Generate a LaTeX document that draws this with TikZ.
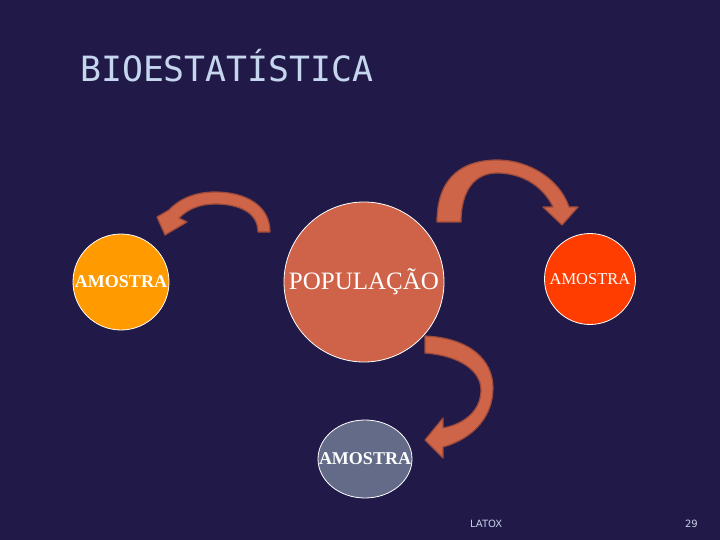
\documentclass[tikz,border=0pt]{standalone}
\usepackage{fontspec}
\setmainfont{Liberation Serif}
\newfontfamily\titlefont{DejaVu Sans Mono}
\newfontfamily\footfont{DejaVu Sans}
\usetikzlibrary{shapes.geometric}
\definecolor{bg}{HTML}{211A48}
\definecolor{titlecol}{HTML}{C5D6EE}
\definecolor{arrowfill}{HTML}{CF6548}
\definecolor{arrowline}{HTML}{9E4A3A}
\definecolor{popfill}{HTML}{CF634A}
\definecolor{orangefill}{HTML}{FF9A00}
\definecolor{redfill}{HTML}{FF3D00}
\definecolor{grayfill}{HTML}{646B88}
\definecolor{footcol}{HTML}{C8D0E8}
\tikzset{
  blob/.style={circle, draw=white, line width=0.8pt, inner sep=0pt, text=white},
  blockarrow/.style={fill=arrowfill, draw=arrowline, line width=1.2pt, line join=round},
  foot/.style={font=\footfont\fontsize{10}{12}\selectfont, text=footcol, inner sep=0pt}
}
\begin{document}
\begin{tikzpicture}[x=1pt,y=-1pt]
\fill[bg] (0,0) rectangle (720,540);
\useasboundingbox (0,0) rectangle (720,540);

\node[anchor=base west, inner sep=0pt, text=titlecol, font=\titlefont\fontsize{34.8}{40}\selectfont] (title) at (80,82) {BIOESTATÍSTICA};

\node[blob, fill=popfill, minimum size=160pt, font=\fontsize{25}{28}\selectfont] (pop) at (364,282) {POPULAÇÃO};
\node[blob, fill=orangefill, minimum size=96pt, font=\bfseries\fontsize{18}{20}\selectfont] (amleft) at (121,282) {AMOSTRA};
\node[blob, fill=redfill, minimum size=91pt, font=\fontsize{16.5}{19}\selectfont] (amright) at (590,279) {AMOSTRA};
\node[ellipse, draw=white, line width=0.8pt, inner sep=0pt, fill=grayfill, minimum width=94pt, minimum height=78pt,
  label={[text=white, inner sep=0pt, font=\bfseries\fontsize{18}{20}\selectfont]center:AMOSTRA}] (ambottom) at (365,459) {};

% left arrow
\draw[blockarrow] (270,232) .. controls (270,205) and (245,192) .. (215,192)
  .. controls (195,192) and (179,199) .. (169,210) -- (157,217) -- (165,235) -- (187,222) -- (179,218)
  .. controls (188,209) and (200,204) .. (215,204)
  .. controls (240,204) and (258,213) .. (258,232) -- cycle;

% top right arrow
\draw[blockarrow] (437,222) .. controls (437,175) and (465,160) .. (497,160)
  .. controls (530,160) and (560,180) .. (569,207) -- (578,207) -- (562,225) -- (543,207) -- (553,207)
  .. controls (543,186) and (522,173) .. (497,173)
  .. controls (475,173) and (461,190) .. (461,222) -- cycle;

% bottom arrow
\draw[blockarrow] (425,336) .. controls (470,338) and (493,360) .. (493,388)
  .. controls (493,415) and (475,438) .. (443,447) -- (443,458) -- (425,440) -- (443,418) -- (443,428)
  .. controls (465,424) and (481,410) .. (481,390)
  .. controls (481,372) and (462,356) .. (425,353) -- cycle;

\node[foot, anchor=base west] (latox) at (470,527) {LATOX};
\node[foot, anchor=base east] (pagenum) at (698,527) {29};
\end{tikzpicture}
\end{document}
